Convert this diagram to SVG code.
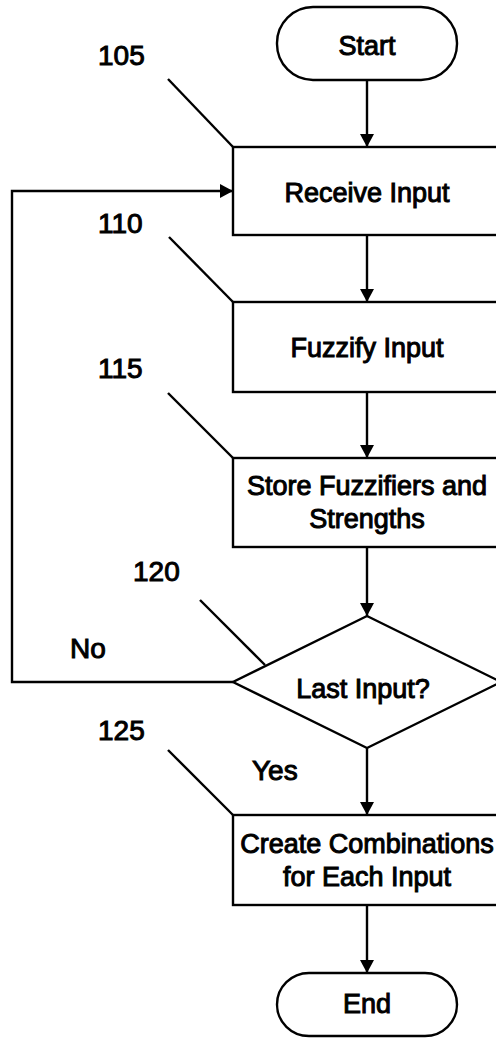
<svg xmlns="http://www.w3.org/2000/svg" width="496" height="1038" viewBox="0 0 496 1038">
<style>
.s{fill:#fff;stroke:#000;stroke-width:2.4}
.l{fill:none;stroke:#000;stroke-width:2.4}
.t{font-family:"Liberation Sans",Arial,sans-serif;font-size:27px;fill:#000;stroke:#000;stroke-width:1;text-anchor:middle}
.n{font-family:"Liberation Sans",Arial,sans-serif;font-size:28px;fill:#000;stroke:#000;stroke-width:1}
</style>
<defs>
<marker id="ah" markerWidth="14" markerHeight="14" refX="13" refY="7" orient="auto" markerUnits="userSpaceOnUse">
<path d="M0,0 L13,7 L0,14 Z" fill="#000"/>
</marker>
</defs>
<rect width="496" height="1038" fill="#fff"/>
<g id="connectors">
<line class="l" x1="367" y1="80" x2="367" y2="147" marker-end="url(#ah)"/>
<line class="l" x1="367" y1="235" x2="367" y2="302" marker-end="url(#ah)"/>
<line class="l" x1="367" y1="392" x2="367" y2="458" marker-end="url(#ah)"/>
<line class="l" x1="367" y1="547" x2="367" y2="616" marker-end="url(#ah)"/>
<line class="l" x1="367" y1="748" x2="367" y2="815" marker-end="url(#ah)"/>
<line class="l" x1="367" y1="905" x2="367" y2="973" marker-end="url(#ah)"/>
<polyline class="l" points="233,682 12,682 12,191 233,191" marker-end="url(#ah)"/>
<text class="n" x="70" y="658">No</text>
<text class="n" x="252" y="780">Yes</text>
</g>
<g id="leaders">
<line class="l" x1="168" y1="79" x2="233" y2="147"/>
<line class="l" x1="169" y1="237" x2="233" y2="302"/>
<line class="l" x1="168" y1="393" x2="233" y2="458"/>
<line class="l" x1="200" y1="600" x2="265" y2="665"/>
<line class="l" x1="168" y1="750" x2="233" y2="815"/>
<text class="n" x="98" y="65">105</text>
<text class="n" x="98" y="233">110</text>
<text class="n" x="98" y="378">115</text>
<text class="n" x="133" y="581">120</text>
<text class="n" x="98" y="740">125</text>
</g>
<g id="start">
<rect class="s" x="277" y="7" width="180" height="73" rx="36" ry="36"/>
<text class="t" x="367" y="55">Start</text>
</g>
<g id="n105">
<rect class="s" x="233" y="147" width="268" height="88"/>
<text class="t" x="367" y="202">Receive Input</text>
</g>
<g id="n110">
<rect class="s" x="233" y="302" width="268" height="90"/>
<text class="t" x="367" y="357">Fuzzify Input</text>
</g>
<g id="n115">
<rect class="s" x="233" y="458" width="268" height="89"/>
<text class="t" x="367" y="495">Store Fuzzifiers and</text>
<text class="t" x="367" y="528">Strengths</text>
</g>
<g id="n120">
<polygon class="s" points="367,616 501,682 367,748 233,682"/>
<text class="t" x="363" y="698">Last Input?</text>
</g>
<g id="n125">
<rect class="s" x="233" y="815" width="268" height="90"/>
<text class="t" x="367" y="853">Create Combinations</text>
<text class="t" x="367" y="886">for Each Input</text>
</g>
<g id="end">
<rect class="s" x="277" y="973" width="180" height="63" rx="32" ry="32"/>
<text class="t" x="367" y="1013">End</text>
</g>
</svg>
